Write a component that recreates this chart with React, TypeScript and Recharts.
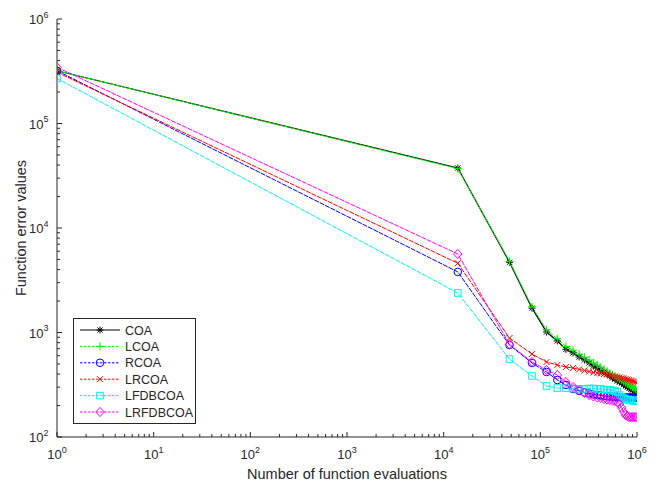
import React from 'react'
import { LineChart, Line, XAxis, YAxis, Legend } from 'recharts'

// ─── Data ────────────────────────────────────────────────────────────────────

const EVALS = [
  1, 14000, 48000, 82000, 116000, 150000, 184000, 218000, 252000, 286000, 320000,
  354000, 388000, 422000, 456000, 490000, 524000, 558000, 592000, 626000, 660000,
  694000, 728000, 762000, 796000, 830000, 864000, 898000, 932000, 966000, 1000000,
]

const COA = [
  320000, 37500, 4700, 1710, 1010, 830, 690, 637, 583, 546, 511, 478, 457, 438, 419,
  401, 384, 367, 359, 344, 336, 329, 318, 308, 301, 294, 288, 282, 276, 270, 266,
]
const LCOA = [
  320000, 37000, 4800, 1760, 1060, 870, 735, 675, 620, 580, 545, 512, 488, 465, 445,
  426, 408, 392, 382, 368, 358, 350, 340, 330, 322, 314, 306, 299, 292, 286, 280,
]
const RCOA = [
  320000, 3800, 758, 511, 419, 351, 315, 288, 276, 267, 261, 255, 252, 250, 247,
  245, 244, 243, 242, 242, 241, 241, 240, 240, 239, 239, 239, 238, 238, 238, 238,
]
const LRCOA = [
  310000, 4600, 885, 622, 522, 489, 468, 457, 443, 433, 423, 414, 409, 405, 401,
  396, 392, 384, 380, 375, 371, 367, 363, 359, 355, 351, 347, 343, 340, 336, 330,
]
const LFDBCOA = [
  270000, 2390, 557, 384, 308, 294, 294, 291, 288, 288, 291, 291, 288, 288, 285,
  282, 282, 279, 276, 270, 252, 242, 236, 231, 228, 226, 226, 223, 221, 221, 221,
]
const LRFDBCOA = [
  345000, 5640, 770, 522, 438, 392, 336, 301, 282, 264, 252, 244, 239, 236, 231,
  228, 226, 223, 221, 215, 207, 190, 174, 162, 158, 155, 155, 155, 155, 155, 155,
]

const X_MAJOR = [1, 10, 100, 1000, 10000, 100000, 1000000]
const Y_MAJOR = [100, 1000, 10000, 100000, 1000000]
const MINOR_STEPS = [2, 3, 4, 5, 6, 7, 8, 9]

// ─── Constants ───────────────────────────────────────────────────────────────

const AXIS_COLOR = '#262626'
const FONT = '"Liberation Sans", Arial, Helvetica, sans-serif'

type MarkerType = 'star' | 'plus' | 'circle' | 'cross' | 'square' | 'diamond'

const SERIES: { key: string; color: string; marker: MarkerType; dashed: boolean; width: number }[] = [
  { key: 'COA', color: '#000000', marker: 'star', dashed: false, width: 1.2 },
  { key: 'LCOA', color: '#00ee00', marker: 'plus', dashed: true, width: 1 },
  { key: 'RCOA', color: '#0000ff', marker: 'circle', dashed: true, width: 1 },
  { key: 'LRCOA', color: '#ff0000', marker: 'cross', dashed: true, width: 1 },
  { key: 'LFDBCOA', color: '#00f0f0', marker: 'square', dashed: true, width: 1 },
  { key: 'LRFDBCOA', color: '#ff00ff', marker: 'diamond', dashed: true, width: 1 },
]

const VALUES: Record<string, number[]> = { COA, LCOA, RCOA, LRCOA, LFDBCOA, LRFDBCOA }

const data = EVALS.map((x, i) => {
  const row: Record<string, number> = { x }
  for (const s of SERIES) row[s.key] = VALUES[s.key][i]
  return row
})

const withMinor = (majors: number[]) =>
  majors.concat(majors.slice(0, -1).flatMap((m) => MINOR_STEPS.map((k) => m * k)))

const X_TICKS = withMinor(X_MAJOR)
const Y_TICKS = withMinor(Y_MAJOR)

// ─── Markers ─────────────────────────────────────────────────────────────────

function Marker({ type, cx, cy, color }: { type: MarkerType; cx: number; cy: number; color: string }) {
  const p = { stroke: color, strokeWidth: 1, fill: 'none' }
  switch (type) {
    case 'star':
      return (
        <g {...p}>
          <line x1={cx - 3.5} x2={cx + 3.5} y1={cy} y2={cy} />
          <line x1={cx} x2={cx} y1={cy - 3.5} y2={cy + 3.5} />
          <line x1={cx - 2.6} x2={cx + 2.6} y1={cy - 2.6} y2={cy + 2.6} />
          <line x1={cx - 2.6} x2={cx + 2.6} y1={cy + 2.6} y2={cy - 2.6} />
        </g>
      )
    case 'plus':
      return (
        <g {...p}>
          <line x1={cx - 4} x2={cx + 4} y1={cy} y2={cy} />
          <line x1={cx} x2={cx} y1={cy - 4} y2={cy + 4} />
        </g>
      )
    case 'circle':
      return <circle cx={cx} cy={cy} r={3.8} {...p} />
    case 'cross':
      return (
        <g {...p}>
          <line x1={cx - 3} x2={cx + 3} y1={cy - 3} y2={cy + 3} />
          <line x1={cx - 3} x2={cx + 3} y1={cy + 3} y2={cy - 3} />
        </g>
      )
    case 'square':
      return <rect x={cx - 3.3} y={cy - 3.3} width={6.6} height={6.6} {...p} />
    case 'diamond':
      return (
        <polygon
          points={`${cx},${cy - 4.6} ${cx + 4.2},${cy} ${cx},${cy + 4.6} ${cx - 4.2},${cy}`}
          {...p}
        />
      )
  }
  return null
}

// ─── Ticks ───────────────────────────────────────────────────────────────────

const expOf = (v: number) => Math.round(Math.log10(v))

// eslint-disable-next-line @typescript-eslint/no-explicit-any
function BottomTick(props: any) {
  const { x, y, payload } = props
  const major = X_MAJOR.includes(payload.value)
  return (
    <g>
      <line x1={x} x2={x} y1={y} y2={y - (major ? 5 : 3)} stroke={AXIS_COLOR} />
      {major && (
        <text x={x} y={y + 22} textAnchor="middle" fill={AXIS_COLOR} fontSize={13} fontFamily={FONT}>
          10
          <tspan dy={-6.5} fontSize={9}>
            {expOf(payload.value)}
          </tspan>
        </text>
      )}
    </g>
  )
}

// eslint-disable-next-line @typescript-eslint/no-explicit-any
function TopTick(props: any) {
  const { x, y, payload } = props
  const major = X_MAJOR.includes(payload.value)
  return <line x1={x} x2={x} y1={y} y2={y + (major ? 5 : 3)} stroke={AXIS_COLOR} />
}

// eslint-disable-next-line @typescript-eslint/no-explicit-any
function LeftTick(props: any) {
  const { x, y, payload } = props
  const major = Y_MAJOR.includes(payload.value)
  return (
    <g>
      <line x1={x} x2={x + (major ? 5 : 3)} y1={y} y2={y} stroke={AXIS_COLOR} />
      {major && (
        <text x={x - 8.5} y={y + 5} textAnchor="end" fill={AXIS_COLOR} fontSize={13} fontFamily={FONT}>
          10
          <tspan dy={-6.5} fontSize={9}>
            {expOf(payload.value)}
          </tspan>
        </text>
      )}
    </g>
  )
}

// eslint-disable-next-line @typescript-eslint/no-explicit-any
function RightTick(props: any) {
  const { x, y, payload } = props
  const major = Y_MAJOR.includes(payload.value)
  return <line x1={x} x2={x - (major ? 5 : 3)} y1={y} y2={y} stroke={AXIS_COLOR} />
}

// ─── Legend ──────────────────────────────────────────────────────────────────

function LegendBox() {
  const rowY = (i: number) => 12 + i * 16.4
  return (
    <svg width={123} height={106} style={{ display: 'block' }}>
      <rect x={0.5} y={0.5} width={122} height={105} fill="#ffffff" stroke={AXIS_COLOR} />
      {SERIES.map((s, i) => (
        <g key={s.key}>
          <line
            x1={7}
            x2={47}
            y1={rowY(i)}
            y2={rowY(i)}
            stroke={s.color}
            strokeWidth={s.width}
            strokeDasharray={s.dashed ? '2.5 1.5' : undefined}
          />
          <Marker type={s.marker} cx={27} cy={rowY(i)} color={s.color} />
          <text x={52} y={rowY(i) + 4.5} fontSize={12.5} fill={AXIS_COLOR} fontFamily={FONT}>
            {s.key}
          </text>
        </g>
      ))}
    </svg>
  )
}

// ─── Main ────────────────────────────────────────────────────────────────────

export default function App() {
  return (
    <div
      style={{
        position: 'absolute',
        left: 0,
        top: 0,
        width: 658,
        height: 484,
        background: '#ffffff',
        fontFamily: FONT,
      }}
    >
      <LineChart width={658} height={484} data={data} margin={{ top: 19, right: 21, left: 0, bottom: 0 }}>
        <XAxis
          dataKey="x"
          type="number"
          scale="log"
          domain={[1, 1000000]}
          allowDataOverflow
          ticks={X_TICKS}
          interval={0}
          tickSize={0}
          tickMargin={0}
          tickLine={false}
          tick={BottomTick}
          axisLine={{ stroke: AXIS_COLOR }}
          height={47}
          label={{
            value: 'Number of function evaluations',
            position: 'insideBottom',
            offset: 5,
            fill: AXIS_COLOR,
            fontSize: 14.5,
          }}
        />
        <XAxis
          xAxisId="top"
          dataKey="x"
          orientation="top"
          type="number"
          scale="log"
          domain={[1, 1000000]}
          allowDataOverflow
          ticks={X_TICKS}
          interval={0}
          tickSize={0}
          tickMargin={0}
          tickLine={false}
          tick={TopTick}
          axisLine={{ stroke: AXIS_COLOR }}
          height={0}
        />
        <YAxis
          type="number"
          scale="log"
          domain={[100, 1000000]}
          allowDataOverflow
          ticks={Y_TICKS}
          interval={0}
          tickSize={0}
          tickMargin={0}
          tickLine={false}
          tick={LeftTick}
          axisLine={{ stroke: AXIS_COLOR }}
          width={57}
          label={{
            value: 'Function error values',
            angle: -90,
            position: 'insideLeft',
            offset: 21,
            fill: AXIS_COLOR,
            fontSize: 14.5,
            style: { textAnchor: 'middle' },
          }}
        />
        <YAxis
          yAxisId="right"
          orientation="right"
          type="number"
          scale="log"
          domain={[100, 1000000]}
          allowDataOverflow
          ticks={Y_TICKS}
          interval={0}
          tickSize={0}
          tickMargin={0}
          tickLine={false}
          tick={RightTick}
          axisLine={{ stroke: AXIS_COLOR }}
          width={0}
        />
        {SERIES.map((s) => (
          <Line
            key={s.key}
            dataKey={s.key}
            stroke={s.color}
            strokeWidth={s.width}
            strokeDasharray={s.dashed ? '5 1' : undefined}
            isAnimationActive={false}
            activeDot={false}
            // eslint-disable-next-line @typescript-eslint/no-explicit-any
            dot={(p: any) => (
              <Marker key={`${s.key}-${p.index}`} type={s.marker} cx={p.cx} cy={p.cy} color={s.color} />
            )}
          />
        ))}
        <Legend
          layout="horizontal"
          verticalAlign="middle"
          align="center"
          content={() => <LegendBox />}
          wrapperStyle={{ position: 'absolute', left: 73, top: 318, width: 123, height: 106 }}
        />
      </LineChart>
    </div>
  )
}
